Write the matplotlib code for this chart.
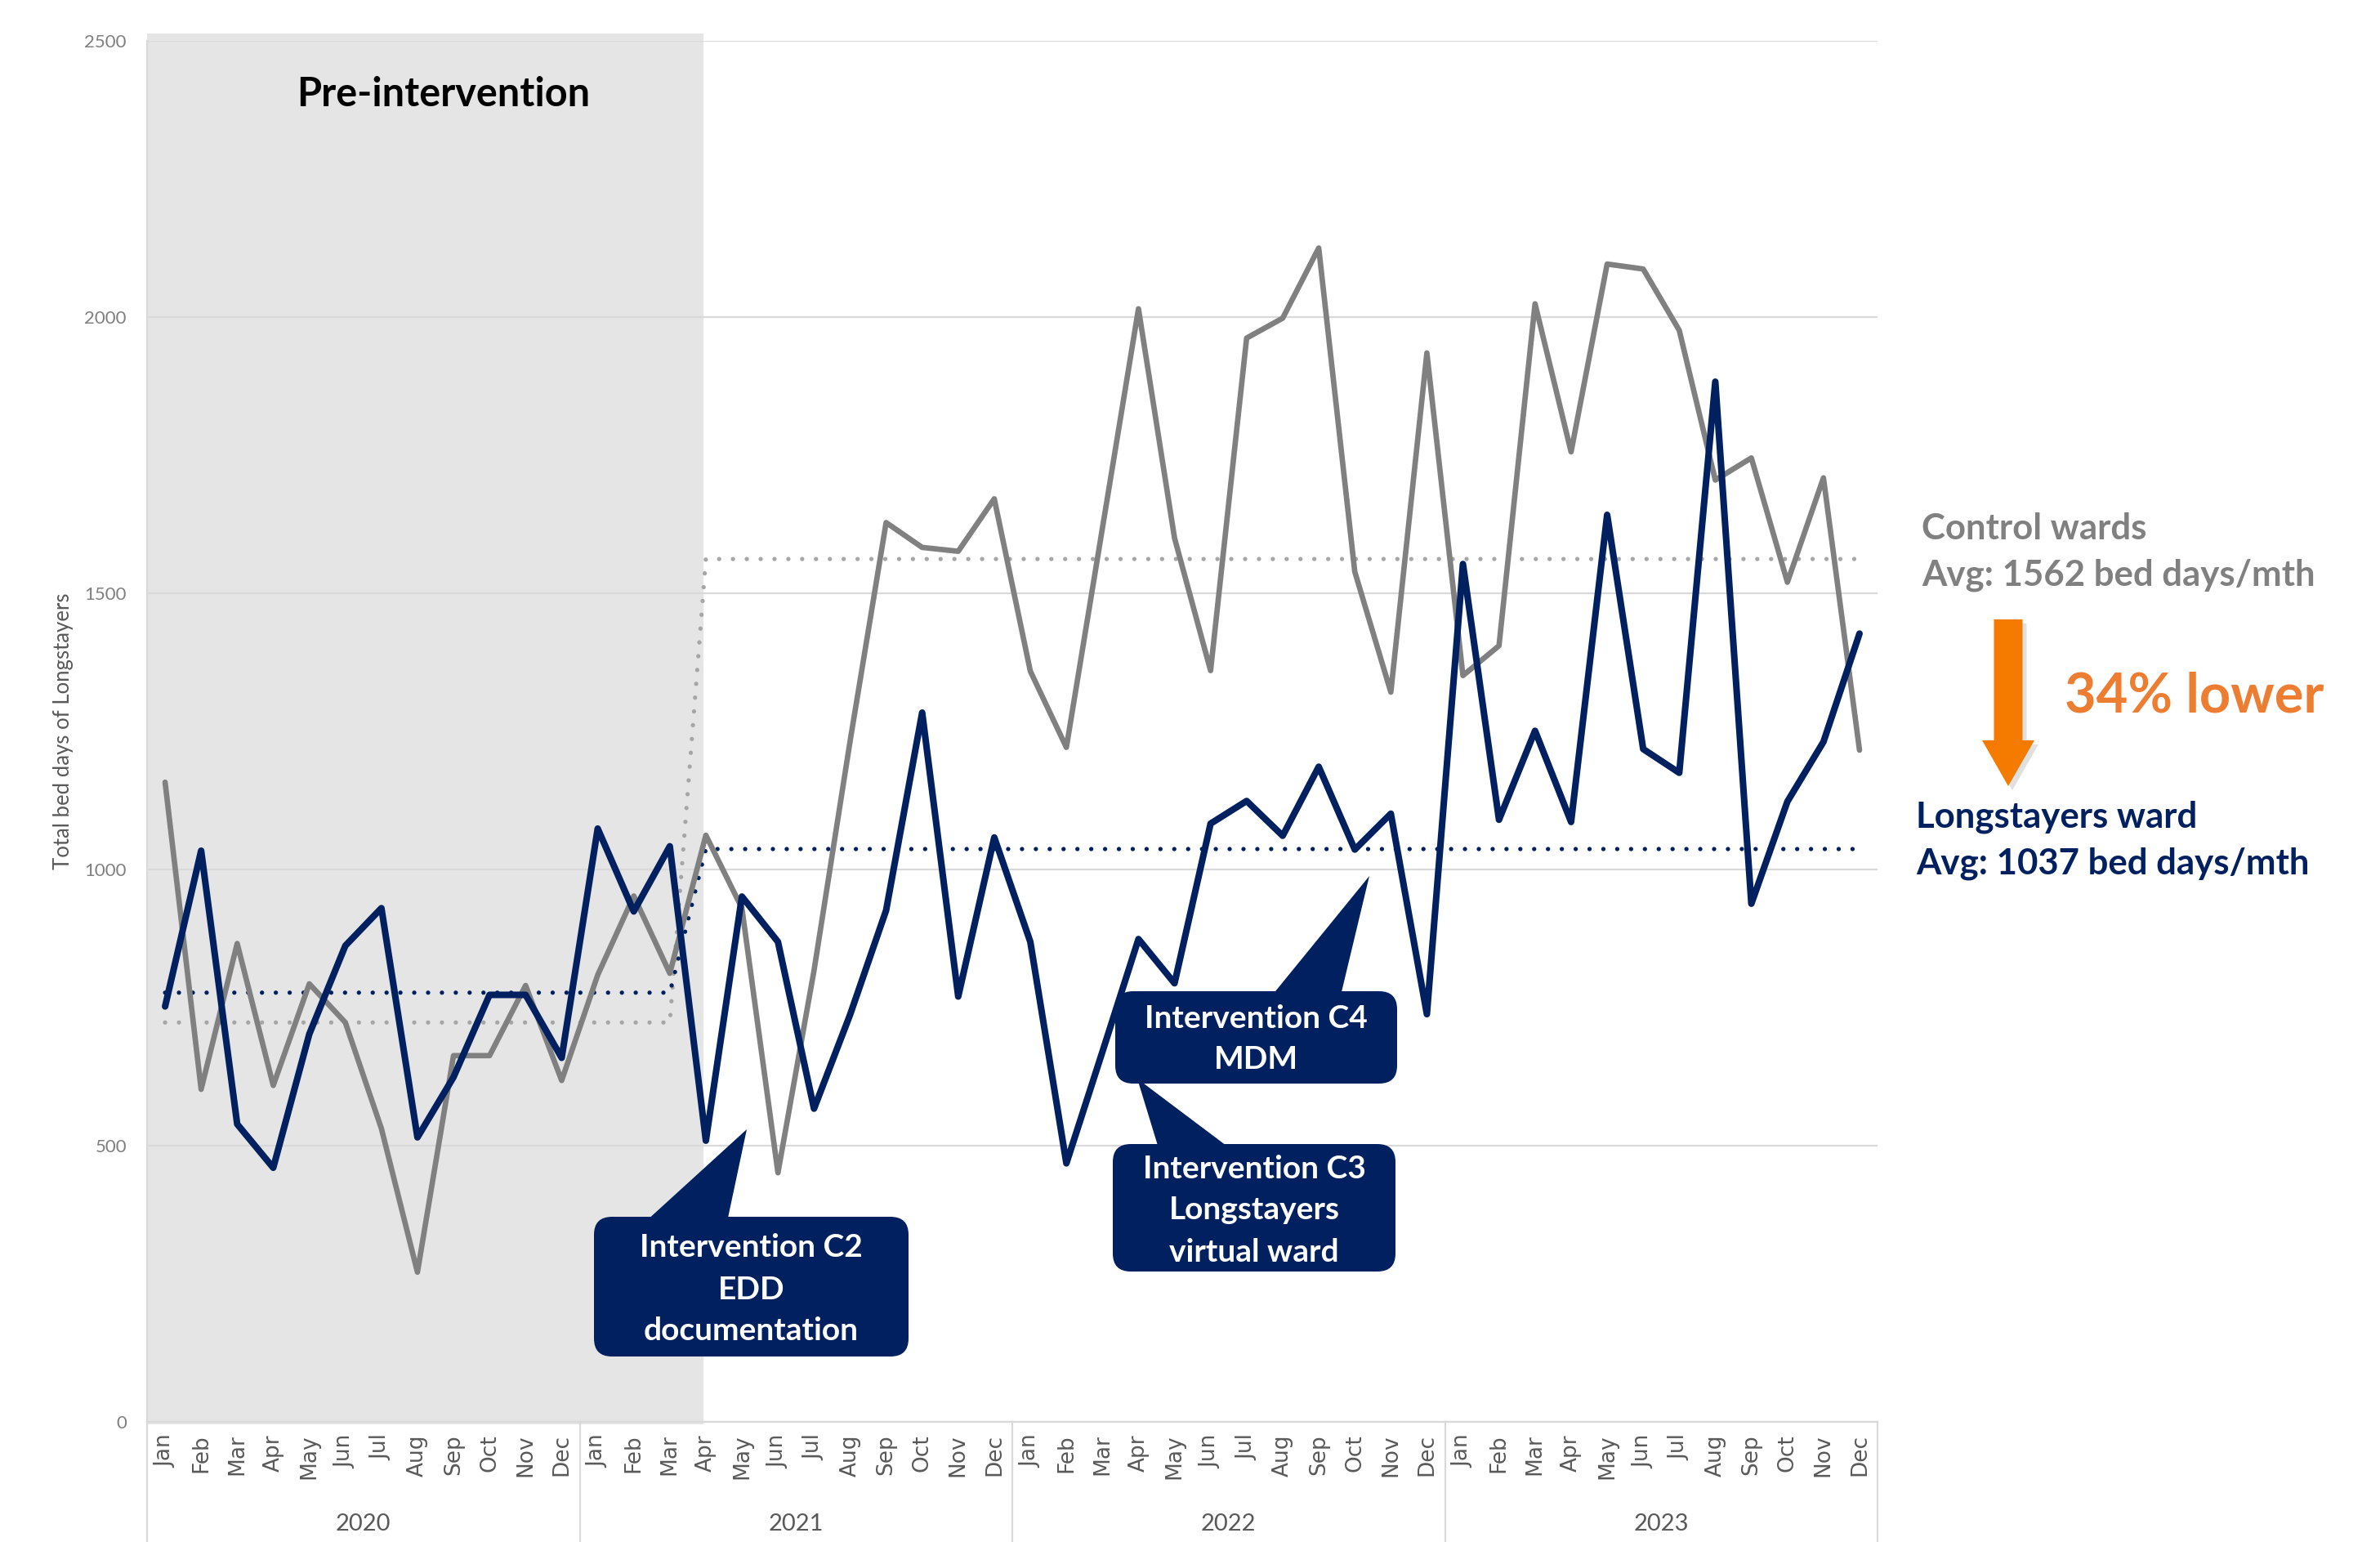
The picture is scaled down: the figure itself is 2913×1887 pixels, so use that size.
import matplotlib
matplotlib.use("Agg")
import matplotlib.pyplot as plt
from matplotlib.patches import Rectangle, FancyBboxPatch, Polygon, FancyArrow
from matplotlib.lines import Line2D
from matplotlib.transforms import blended_transform_factory

# --- data -------------------------------------------------------------
years = ["2020", "2021", "2022", "2023"]
months = ["Jan", "Feb", "Mar", "Apr", "May", "Jun",
          "Jul", "Aug", "Sep", "Oct", "Nov", "Dec"]

control_wards = [1158, 602, 866, 609, 793, 723, 531, 271, 663, 663, 790, 618,
                 809, 952, 812, 1062, 930, 451, 817, 1232, 1628, 1583, 1576, 1671,
                 1359, 1221, 1618, 2015, 1600, 1360, 1962, 1998, 2125, 1539, 1321, 1935,
                 1351, 1405, 2024, 1756, 2096, 2087, 1976, 1705, 1745, 1520, 1709, 1216]

longstayers_ward = [752, 1034, 539, 460, 702, 862, 930, 515, 624, 773, 773, 659,
                    1074, 924, 1042, 509, 951, 869, 567, 737, 926, 1284, 770, 1058,
                    869, 468, 670, 874, 794, 1083, 1124, 1061, 1186, 1036, 1101, 738,
                    1553, 1090, 1251, 1086, 1642, 1218, 1175, 1883, 938, 1123, 1231, 1427]

n_pre = 15            # Jan 2020 - Mar 2021
control_avg = [723, 1562]
longstayers_avg = [777, 1037]

NAVY = "#002060"
GREY = "#808080"
GRID = "#D9D9D9"

labels = months * len(years)
x = list(range(len(labels)))
ctrl_avg_line = [control_avg[0]] * n_pre + [control_avg[1]] * (len(x) - n_pre)
long_avg_line = [longstayers_avg[0]] * n_pre + [longstayers_avg[1]] * (len(x) - n_pre)

W, H = 2913, 1887
fig = plt.figure(figsize=(W / 100, H / 100), dpi=100)
ax = fig.add_axes([180 / W, 1 - 1740 / H, (2298 - 180) / W, (1740 - 50) / H])


def px(xp, yp):
    # pixel position (from top-left) -> inches for fig.dpi_scale_trans
    return xp / 100, (H - yp) / 100


# pre-intervention shading
ax.add_patch(Rectangle((-0.5, -4), 15.43, 2517, facecolor="#E5E5E5",
                       edgecolor="none", zorder=0.1, clip_on=False))

ax.plot(x, ctrl_avg_line, color="#A6A6A6", lw=3.8, ls=(0, (0.01, 3.2)),
        dash_capstyle="round", zorder=2)
ax.plot(x, long_avg_line, color=NAVY, lw=3.8, ls=(0, (0.01, 3.2)),
        dash_capstyle="round", zorder=2)
ax.plot(x, control_wards, color=GREY, lw=4.8, solid_joinstyle="round",
        solid_capstyle="round", zorder=3)
ax.plot(x, longstayers_ward, color=NAVY, lw=5.8, solid_joinstyle="round",
        solid_capstyle="round", zorder=4)

ax.set_xlim(-0.5, len(x) - 0.5)
ax.set_ylim(0, 2500)
ax.set_yticks(range(0, 2501, 500))
ax.yaxis.grid(True, color=GRID, lw=1.6)
ax.set_axisbelow(True)
ax.set_facecolor("white")
for s in ["top", "right"]:
    ax.spines[s].set_visible(False)
ax.spines["bottom"].set_color(GRID)
ax.spines["bottom"].set_linewidth(1.6)
ax.spines["left"].set_color(GRID)
ax.spines["left"].set_linewidth(1.6)

ax.set_xticks(x)
ax.set_xticklabels(labels, rotation=90, fontsize=19, color="#595959",
                   family="DejaVu Sans")
ax.tick_params(axis="x", length=0, pad=11)
ax.tick_params(axis="y", length=0, pad=18, labelsize=16, labelcolor="#7F7F7F")
for t in ax.get_yticklabels():
    t.set_family("Lato")

# multi-level category axis: separators and year labels
tr = blended_transform_factory(ax.transData, fig.transFigure)
ybot = 1 - 1740 / H
for xs in [-0.5, 11.5, 23.5, 35.5, 47.5]:
    ax.add_line(Line2D([xs, xs], [0, ybot], transform=tr, color=GRID,
                       lw=1.6, clip_on=False))
for i, yr in enumerate(years):
    ax.text(i * 12 + 5.5, 1 - 1865 / H, yr, transform=tr, ha="center",
            va="center", fontsize=21, color="#595959", family="Lato")

fig.text(78 / W, 1 - 895 / H, "Total bed days of Longstayers", rotation=90,
         ha="center", va="center", fontsize=18.5, color="#595959", family="Lato")

fig.text(543 / W, 1 - 115 / H, "Pre-intervention", ha="center", va="center",
         fontsize=35, fontweight="bold", color="black", family="Lato")

# right-hand summary
fig.text(2352 / W, 1 - 647 / H, "Control wards", ha="left", va="center",
         fontsize=31.5, fontweight="bold", color=GREY, family="Lato")
fig.text(2352 / W, 1 - 704 / H, "Avg: 1562 bed days/mth", ha="left",
         va="center", fontsize=31.5, fontweight="bold", color=GREY, family="Lato")
fig.text(2345 / W, 1 - 1000 / H, "Longstayers ward", ha="left", va="center",
         fontsize=31.5, fontweight="bold", color=NAVY, family="Lato")
fig.text(2345 / W, 1 - 1057 / H, "Avg: 1037 bed days/mth", ha="left",
         va="center", fontsize=31.5, fontweight="bold", color=NAVY, family="Lato")
fig.text(2527 / W, 1 - 852 / H, "34% lower", ha="left", va="center",
         fontsize=48, fontweight="bold", color="#ED7D31", family="Lato")

ax0, ay0 = px(2458, 758)
ax1, ay1 = px(2458, 962)
fig.add_artist(FancyArrow(ax0 + 0.05, ay0 - 0.05, 0, ay1 - ay0, width=0.35,
                          head_width=0.64, head_length=0.56,
                          length_includes_head=True, color="#000000",
                          alpha=0.12, lw=0, transform=fig.dpi_scale_trans))
fig.add_artist(FancyArrow(ax0, ay0, 0, ay1 - ay0, width=0.35, head_width=0.64,
                          head_length=0.56, length_includes_head=True,
                          color="#F47B00", lw=0, transform=fig.dpi_scale_trans))


# callouts
def callout(box, pointer, text, lines_y):
    x0, y0, x1, y1 = box
    bx, by = px(x0, y1)
    fig.add_artist(Polygon([px(*p) for p in pointer], closed=True,
                           facecolor=NAVY, edgecolor="none",
                           transform=fig.dpi_scale_trans))
    fig.add_artist(FancyBboxPatch((bx, by), (x1 - x0) / 100, (y1 - y0) / 100,
                                  boxstyle="round,pad=0,rounding_size=0.22",
                                  facecolor=NAVY, edgecolor="none",
                                  transform=fig.dpi_scale_trans))
    cx = (x0 + x1) / 2
    for t, ly in zip(text, lines_y):
        fig.text(cx / W, 1 - ly / H, t, ha="center", va="center",
                 fontsize=28, fontweight="bold", color="white", family="Lato")


callout((727, 1489, 1112, 1660), [(790, 1495), (914, 1382), (890, 1495)],
        ["Intervention C2", "EDD", "documentation"], [1527, 1578, 1629])
callout((1362, 1400, 1708, 1556), [(1418, 1405), (1392, 1320), (1505, 1405)],
        ["Intervention C3", "Longstayers", "virtual ward"], [1430, 1481, 1532])
callout((1365, 1213, 1710, 1326), [(1557, 1218), (1676, 1072), (1641, 1218)],
        ["Intervention C4", "MDM"], [1247, 1297])

fig.savefig("out.png", dpi=100)
